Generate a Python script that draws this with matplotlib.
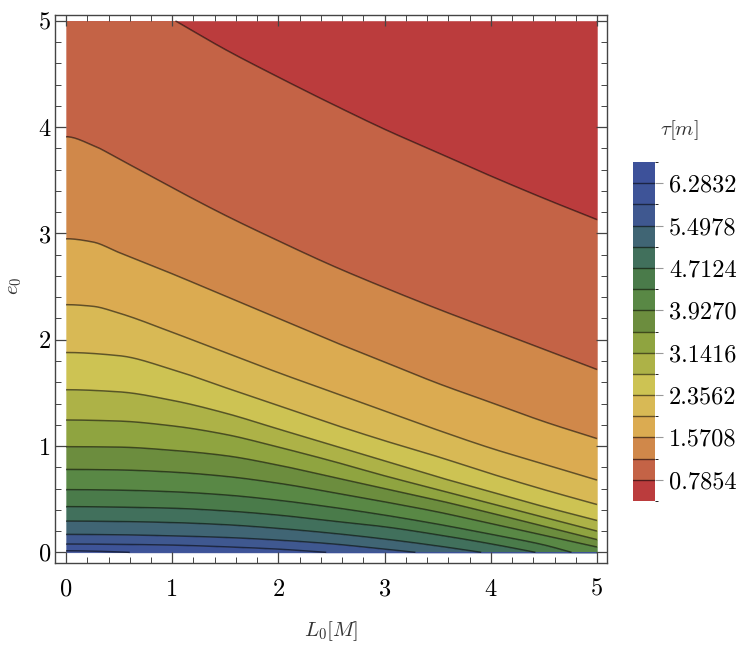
import numpy as np
import matplotlib
matplotlib.use("Agg")
import matplotlib.pyplot as plt
from matplotlib.colors import ListedColormap, BoundaryNorm
from matplotlib.ticker import MultipleLocator

plt.rcParams['font.family'] = 'cmr10'
plt.rcParams['mathtext.fontset'] = 'cm'
plt.rcParams['axes.formatter.use_mathtext'] = True

# contour levels of tau (pi/8 steps)
tau_levels = [k * np.pi / 8 for k in range(2, 17)]
tau_bounds = [k * np.pi / 8 for k in range(1, 18)]

l0_grid = [0.0, 0.5, 1.0, 1.5, 2.0, 2.5, 3.0, 3.5, 4.0, 4.5, 5.0]
l0_fine = [0.0, 0.25, 0.5, 1.0, 1.5, 2.0, 2.5, 3.0, 3.5, 4.0, 4.5, 5.0]

# e0 position of each contour line along L0 (lines that leave the box end at e0 = 5 or e0 = 0)
c_pi4 = ([1.03, 1.5, 2.0, 2.5, 3.0, 3.5, 4.0, 4.5, 5.0],
         [5.0, 4.73, 4.47, 4.22, 3.98, 3.76, 3.54, 3.33, 3.13])
c_3pi8 = (l0_fine, [3.91, 3.83, 3.70, 3.43, 3.17, 2.93, 2.70, 2.49, 2.29, 2.10, 1.91, 1.72])
c_pi2 = (l0_fine, [2.95, 2.92, 2.82, 2.62, 2.41, 2.20, 1.99, 1.79, 1.59, 1.41, 1.23, 1.07])
c_5pi8 = (l0_fine, [2.33, 2.315, 2.25, 2.07, 1.88, 1.69, 1.51, 1.33, 1.15, 0.98, 0.83, 0.68])
c_3pi4 = (l0_grid, [1.88, 1.85, 1.72, 1.55, 1.38, 1.21, 1.05, 0.90, 0.74, 0.59, 0.45])
c_7pi8 = (l0_grid, [1.53, 1.51, 1.43, 1.31, 1.16, 1.01, 0.86, 0.71, 0.57, 0.43, 0.30])
c_pi = (l0_grid, [1.245, 1.235, 1.19, 1.11, 0.99, 0.86, 0.72, 0.59, 0.46, 0.33, 0.20])
c_9pi8 = (l0_grid, [0.994, 0.99, 0.96, 0.91, 0.82, 0.71, 0.60, 0.49, 0.37, 0.245, 0.12])
c_5pi4 = (l0_grid, [0.78, 0.775, 0.755, 0.715, 0.65, 0.565, 0.475, 0.38, 0.27, 0.16, 0.05])
c_11pi8 = (l0_grid[:10] + [4.76], [0.59, 0.585, 0.57, 0.54, 0.49, 0.425, 0.35, 0.265, 0.17, 0.07, 0.0])
c_3pi2 = (l0_grid[:9] + [4.42], [0.43, 0.425, 0.415, 0.39, 0.35, 0.295, 0.24, 0.165, 0.08, 0.0])
c_13pi8 = (l0_grid[:8] + [3.91], [0.294, 0.29, 0.28, 0.26, 0.225, 0.18, 0.125, 0.06, 0.0])
c_7pi4 = (l0_grid[:7] + [3.29], [0.169, 0.165, 0.155, 0.14, 0.115, 0.08, 0.03, 0.0])
c_15pi8 = (l0_grid[:5] + [2.45], [0.078, 0.075, 0.068, 0.052, 0.03, 0.0])
c_2pi = ([0.0, 0.3, 0.6], [0.015, 0.01, 0.0])

contours = [c_pi4, c_3pi8, c_pi2, c_5pi8, c_3pi4, c_7pi8, c_pi, c_9pi8, c_5pi4,
            c_11pi8, c_3pi2, c_13pi8, c_7pi4, c_15pi8, c_2pi]

band_colors = ['#bb3c3d', '#c46346', '#d0884a', '#dbab51', '#d8b955', '#cdc353',
               '#adb247', '#8fa440', '#6c8d3e', '#598845', '#4a7b4a', '#41705c',
               '#406574', '#3f5890', '#3e5498', '#3d519a']

cb_ticks = [k * np.pi / 4 for k in range(1, 9)]


def smooth(x, y, xs):
    # monotone cubic through the read points, only to draw the lines without kinks
    x = np.asarray(x, float)
    y = np.asarray(y, float)
    h = np.diff(x)
    d = np.diff(y) / h
    m = np.zeros_like(y)
    for k in range(1, len(y) - 1):
        if d[k - 1] * d[k] > 0:
            w1 = 2 * h[k] + h[k - 1]
            w2 = h[k] + 2 * h[k - 1]
            m[k] = (w1 + w2) / (w1 / d[k - 1] + w2 / d[k])
    m[0] = 0.0 if x[0] == 0 else d[0]
    m[-1] = d[-1]
    xs = np.clip(xs, x[0], x[-1])
    i = np.clip(np.searchsorted(x, xs) - 1, 0, len(x) - 2)
    t = (xs - x[i]) / h[i]
    h00 = 2 * t**3 - 3 * t**2 + 1
    h10 = t**3 - 2 * t**2 + t
    h01 = -2 * t**3 + 3 * t**2
    h11 = t**3 - t**2
    return h00 * y[i] + h10 * h[i] * m[i] + h01 * y[i + 1] + h11 * h[i] * m[i + 1]


fig = plt.figure(figsize=(7.47, 6.46), dpi=100)
ax = fig.add_axes([55 / 747, 1 - 563.3 / 646, 552.3 / 747, 548.3 / 646])

xf = np.linspace(0, 5, 1001)
edges = [np.full_like(xf, 5.0)] + [smooth(c[0], c[1], xf) for c in contours] + [np.zeros_like(xf)]
for i, col in enumerate(band_colors):
    ax.fill_between(xf, edges[i + 1], edges[i], color=col, lw=0.3, edgecolor=col)

for l0, e0 in contours:
    xs = np.linspace(l0[0], l0[-1], 300)
    ax.plot(xs, smooth(l0, e0, xs), color='black', alpha=0.55, lw=1.1, solid_capstyle='butt')

ax.set_xlim(-0.104, 5.097)
ax.set_ylim(-0.103, 5.055)
ax.set_xticks(range(6))
ax.set_yticks(range(6))
ax.set_xticklabels([str(i) for i in range(6)])
ax.set_yticklabels([str(i) for i in range(6)])
ax.xaxis.set_minor_locator(MultipleLocator(0.2))
ax.yaxis.set_minor_locator(MultipleLocator(0.2))
ax.tick_params(which='both', direction='in', top=True, right=True, color='#444444', labelsize=17.5)
ax.tick_params(which='major', length=8, width=0.9)
ax.tick_params(which='minor', length=4, width=0.7)
ax.tick_params(axis='x', pad=11)
ax.tick_params(axis='y', pad=3)
for s in ax.spines.values():
    s.set_color('#444444')
    s.set_linewidth(1.0)

fig.text(331 / 747, 1 - 631 / 646, r'$L_0[M]$', fontsize=15, ha='center', va='center', color='#333333')
fig.text(15 / 747, 1 - 286 / 646, r'$e_0$', fontsize=15, ha='center', va='center', rotation=90, color='#333333')

# colour bar
cax = fig.add_axes([633 / 747, 1 - 501 / 646, 22 / 747, 339 / 646])
cmap = ListedColormap(band_colors)
norm = BoundaryNorm(tau_bounds, cmap.N)
sm = plt.cm.ScalarMappable(cmap=cmap, norm=norm)
cbar = fig.colorbar(sm, cax=cax, ticks=cb_ticks)
cbar.set_ticklabels([f'{t:.4f}' for t in cb_ticks])
cbar.outline.set_visible(False)
for lv in tau_levels:
    cax.axhline(lv, color='black', alpha=0.55, lw=1.0)
cax.tick_params(length=6, width=0.8, color='#999999', labelsize=17.5, pad=4)
fig.text(679 / 747, 1 - 130 / 646, r'$\tau[m]$', fontsize=15, ha='center', va='center', color='#333333')

fig.savefig('out.png', dpi=100)
